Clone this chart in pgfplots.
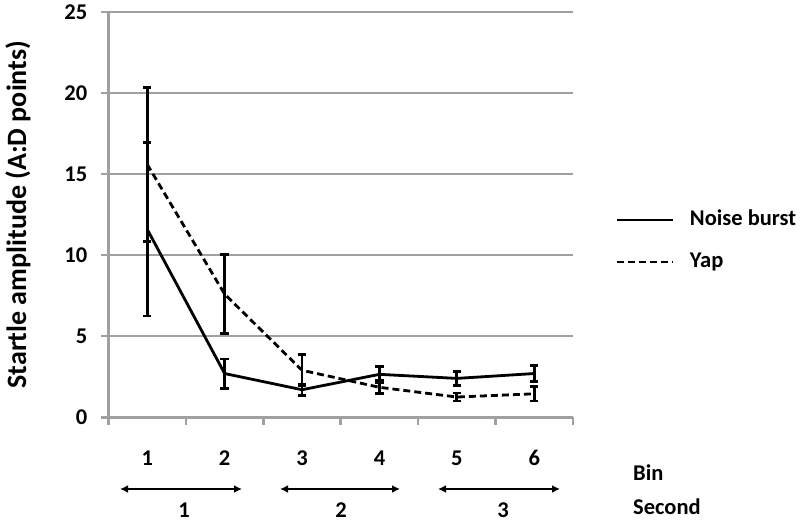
\documentclass[border=0pt]{standalone}
\usepackage{fontspec}
\setmainfont{Carlito}
\usepackage{pgfplots}
\pgfplotsset{compat=1.18}
\usetikzlibrary{arrows.meta}
\definecolor{gridgray}{RGB}{160,160,160}
\newcommand\lbl{\fontsize{22.5}{27}\selectfont\bfseries}
\newcommand\ylbl{\fontsize{28}{33}\selectfont\bfseries}

\pgfplotstableread{
x y e
1 11.6 5.35
2 2.7 0.9
3 1.7 0.35
4 2.65 0.5
5 2.4 0.45
6 2.7 0.5
}\noise
\pgfplotstableread{
x y e
1 15.6 4.75
2 7.6 2.45
3 2.9 0.95
4 1.85 0.4
5 1.25 0.25
6 1.45 0.45
}\yap

\begin{document}
\begin{tikzpicture}
\path[use as bounding box] (0pt,0pt) rectangle (800pt,523pt);
\begin{axis}[
  at={(108.5pt,105.7pt)}, anchor=south west,
  scale only axis, width=464.5pt, height=405.3pt,
  xmin=0.5, xmax=6.5, ymin=0, ymax=25,
  axis x line*=bottom, axis y line*=left,
  axis line style={-, gridgray, line width=2.5pt},
  ytick={0,5,10,15,20,25},
  ymajorgrids,
  major grid style={gridgray, line width=2.5pt},
  tick align=outside,
  major tick length=7.5pt,
  tick style={gridgray, line width=2.5pt},
  xtick={0.5,1.5,2.5,3.5,4.5,5.5,6.5},
  xticklabels={},
  extra x ticks={1,2,3,4,5,6},
  extra x tick labels={1,2,3,4,5,6},
  extra x tick style={major tick length=0pt, xticklabel style={anchor=center, inner sep=0pt, yshift=-40.7pt}},
  ticklabel style={font=\lbl},
  /pgf/number format/assume math mode=true,
  yticklabel style={anchor=east, inner sep=0pt, xshift=-13.5pt},
  ylabel={Startle amplitude (A:D points)},
  ylabel style={font=\ylbl, at={(axis description cs:-0.195,0.5)}, anchor=center},
  error bars/y dir=both,
  error bars/y explicit,
  error bars/error bar style={black, line width=2.8pt, solid},
  error bars/error mark options={rotate=90, black, line width=2.8pt, mark size=4.2pt, solid},
  legend image code/.code={\draw[#1] (0pt,0pt) -- (56pt,0pt);},
  legend cell align=left,
  legend style={draw=none, fill=none, at={(axis description cs:1.0904,0.435)}, anchor=west,
    inner sep=0pt, font=\lbl, column sep=16pt, row sep=23pt,
    nodes={inner sep=0pt, text height=15pt, text depth=4pt}},
]
\addplot[black, line width=2.8pt, mark=none] table[x=x, y=y, y error=e] {\noise};
\addlegendentry{Noise burst}
\addplot[black, line width=2.8pt, mark=none, dash pattern=on 7pt off 4pt] table[x=x, y=y, y error=e] {\yap};
\addlegendentry{Yap}
\end{axis}
\draw[line width=1.8pt, {Latex[length=8pt,width=8pt]}-{Latex[length=8pt,width=8pt]}] (120pt,34pt) -- (242pt,34pt);
\draw[line width=1.8pt, {Latex[length=8pt,width=8pt]}-{Latex[length=8pt,width=8pt]}] (280pt,34pt) -- (400pt,34pt);
\draw[line width=1.8pt, {Latex[length=8pt,width=8pt]}-{Latex[length=8pt,width=8pt]}] (438pt,34pt) -- (560pt,34pt);
\node[font=\lbl, inner sep=0pt] at (184pt,13pt) {1};
\node[font=\lbl, inner sep=0pt] at (341pt,13pt) {2};
\node[font=\lbl, inner sep=0pt] at (503pt,13pt) {3};
\node[font=\lbl, inner sep=0pt, anchor=west] at (633pt,50pt) {Bin};
\node[font=\lbl, inner sep=0pt, anchor=west] at (633pt,16pt) {Second};
\end{tikzpicture}
\end{document}
